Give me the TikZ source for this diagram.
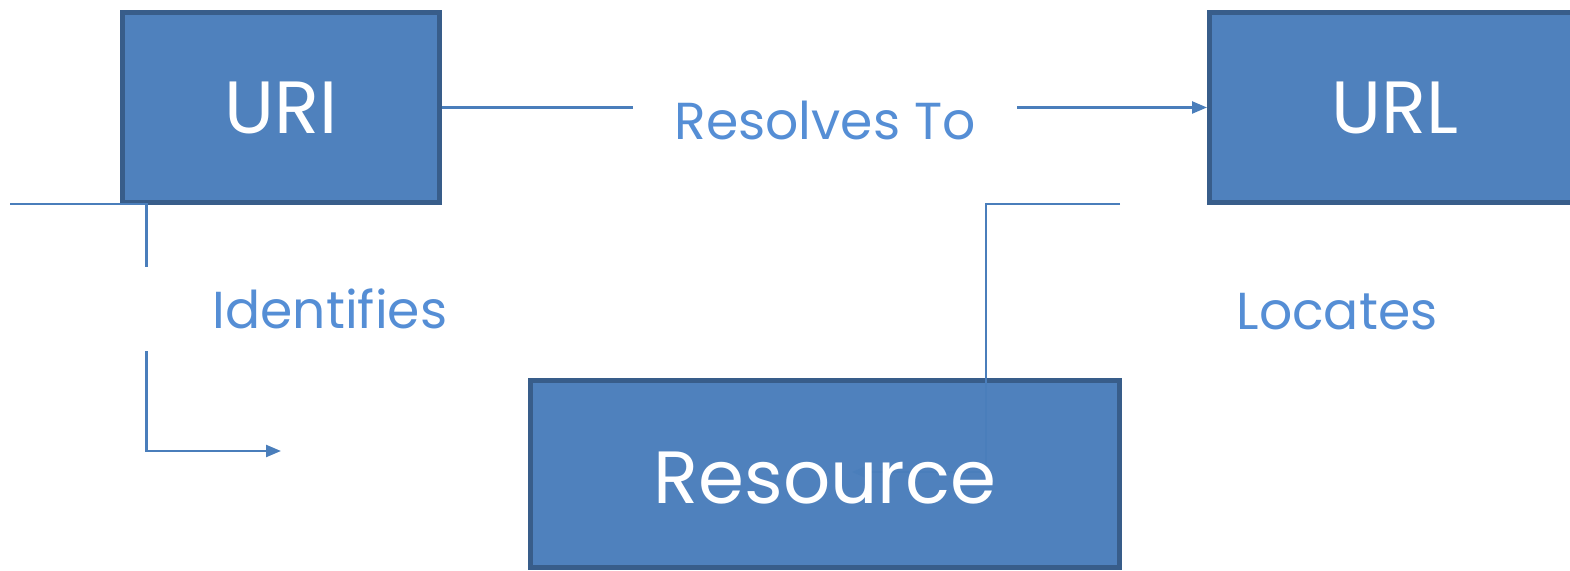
\documentclass[tikz,border=0pt]{standalone}
\usepackage{fontspec}
\setmainfont{Poppins}
\usetikzlibrary{arrows.meta}
\definecolor{boxfill}{HTML}{4F81BD}
\definecolor{boxline}{HTML}{385D8A}
\definecolor{wire}{HTML}{4A7EBB}
\definecolor{labeltext}{HTML}{558ED5}

\begin{document}
\begin{tikzpicture}[x=0.5pt, y=-0.5pt]
        \clip (0,0) rectangle (1570,571);
        {\tikzstyle{every node}=[rectangle, inner sep=0pt]
          \tikzstyle{term}=[draw=boxline, line width=2.5pt, fill=boxfill, text=white, font=\fontsize{37}{44}\selectfont]
          \tikzstyle{relation}=[text=labeltext, font=\fontsize{26}{31}\selectfont]

          \node [term, minimum width=158.5pt, minimum height=95pt] (uri) at (281,107.5) {URI};
          \node [term, minimum width=185.5pt, minimum height=95pt] (url) at (1395,107.5) {URL};
          \node [term, minimum width=294.5pt, minimum height=93.5pt] (res) at (825,474) {};

          \node [relation, minimum width=192pt] (resolves) at (825,120) {Resolves To};
          \node [relation, minimum width=183pt, minimum height=42pt] (identifies) at (330,309) {Identifies};
          \node [relation] (locates) at (1337,312) {Locates};

          \coordinate (idstart) at (10,204);
          \coordinate (idend) at (281,451);
          \coordinate (locstart) at (1120,204);
          \coordinate (locend) at (852,472);
        }

        \draw [wire, line width=1.2pt]
          (uri.east) -- (uri.east -| resolves.west)
          (idstart) -| (identifies.north west);
        \draw [wire, line width=1.2pt, -{Triangle[length=7.5pt, width=6pt]}]
          (uri.east -| resolves.east) -- (url.west);
        \draw [wire, line width=1.2pt, -{Triangle[length=7.5pt, width=6pt]}]
          (identifies.south west) |- (idend);
        \draw [wire, line width=1.2pt, -{Triangle[length=7.5pt, width=6pt]}]
          (locstart) -| ([xshift=67pt]locend) -- (locend);

        \node [text=white, font=\fontsize{37}{44}\selectfont, inner sep=0pt] (restext) at ([yshift=-2pt]res.center) {Resource};
      \end{tikzpicture}
\end{document}
